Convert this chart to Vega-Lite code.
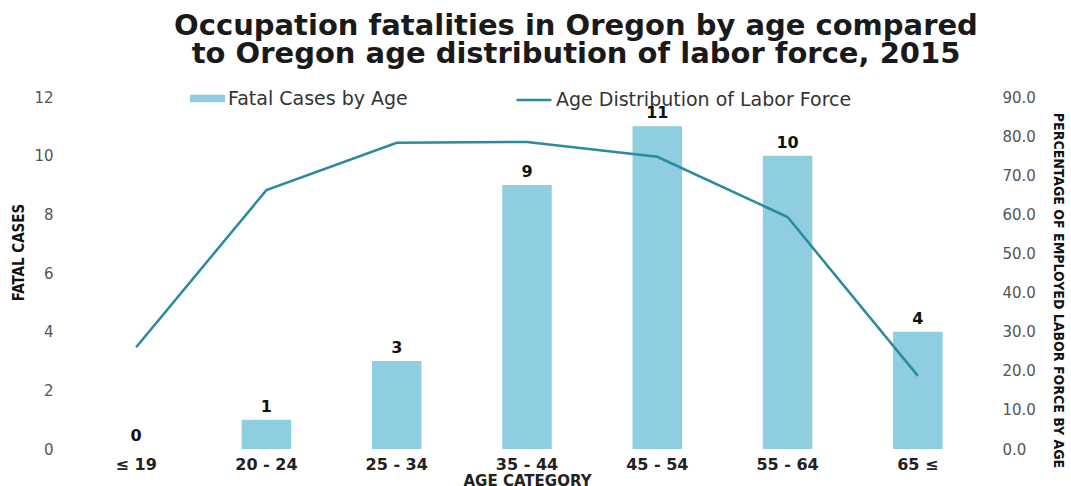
{
  "$schema": "https://vega.github.io/schema/vega-lite/v6.json",
  "width": 912,
  "height": 352,
  "autosize": {"type": "none"},
  "padding": {"left": 71, "top": 97, "right": 88, "bottom": 37},
  "background": "white",
  "title": {
    "text": ["Occupation fatalities in Oregon by age compared", "to Oregon age distribution of labor force, 2015"],
    "anchor": "middle",
    "dx": 49,
    "offset": 12,
    "font": "DejaVu Sans",
    "fontSize": 29,
    "fontWeight": "bold",
    "color": "#1a1a1a",
    "lineHeight": 28
  },
  "config": {
    "view": {"stroke": null},
    "axis": {"grid": false, "domain": false, "ticks": false}
  },
  "data": {
    "values": [
      {"age": "≤ 19", "cases": 0, "pct": 26.0},
      {"age": "20 - 24", "cases": 1, "pct": 66.2},
      {"age": "25 - 34", "cases": 3, "pct": 78.3},
      {"age": "35 - 44", "cases": 9, "pct": 78.5},
      {"age": "45 - 54", "cases": 11, "pct": 74.7},
      {"age": "55 - 64", "cases": 10, "pct": 59.3},
      {"age": "65 ≤", "cases": 4, "pct": 18.7}
    ]
  },
  "encoding": {
    "x": {
      "field": "age",
      "type": "nominal",
      "sort": null,
      "scale": {"paddingInner": 0.62, "paddingOuter": 0.31},
      "axis": {
        "title": "AGE CATEGORY",
        "labelAngle": 0,
        "labelPadding": 7,
        "labelFont": "DejaVu Sans",
        "labelFontSize": 16,
        "labelFontWeight": "bold",
        "labelColor": "#222222",
        "titleFont": "DejaVu Sans",
        "titleFontSize": 15,
        "titleFontWeight": "bold",
        "titleColor": "#222222",
        "titlePadding": 1
      }
    }
  },
  "layer": [
    {
      "mark": {"type": "bar"},
      "encoding": {
        "y": {
          "field": "cases",
          "type": "quantitative",
          "scale": {"domain": [0, 12]},
          "axis": {
            "title": "FATAL CASES",
            "values": [0, 2, 4, 6, 8, 10, 12],
            "labelPadding": 18,
            "labelFont": "DejaVu Sans",
            "labelFontSize": 15,
            "labelColor": "#555555",
            "titleFont": "DejaVu Sans Condensed",
            "titleFontSize": 15,
            "titleFontWeight": "bold",
            "titleColor": "#111111",
            "titlePadding": 7,
            "titleY": 155
          }
        },
        "fill": {
          "datum": "Fatal Cases by Age",
          "type": "nominal",
          "scale": {"range": ["#8fcde0"]},
          "legend": {
            "title": null,
            "orient": "none",
            "legendX": 119,
            "legendY": -16,
            "symbolType": "M-1,-0.22H1V0.22H-1Z",
            "symbolSize": 1225,
            "symbolStrokeWidth": 0,
            "labelFont": "DejaVu Sans",
            "labelFontSize": 19,
            "labelColor": "#333333",
            "labelOffset": 3,
            "labelLimit": 500
          }
        }
      }
    },
    {
      "mark": {"type": "text", "dy": -13, "font": "DejaVu Sans", "fontSize": 16, "fontWeight": "bold", "color": "#111111"},
      "encoding": {
        "y": {"field": "cases", "type": "quantitative", "scale": {"domain": [0, 12]}, "axis": null},
        "text": {"field": "cases", "type": "quantitative"}
      }
    },
    {
      "mark": {"type": "line", "strokeWidth": 2.5},
      "encoding": {
        "y": {
          "field": "pct",
          "type": "quantitative",
          "scale": {"domain": [0, 90]},
          "axis": {
            "orient": "right",
            "title": "PERCENTAGE OF EMPLOYED LABOR FORCE BY AGE",
            "values": [0, 10, 20, 30, 40, 50, 60, 70, 80, 90],
            "format": ".1f",
            "labelPadding": 19,
            "labelFont": "DejaVu Sans",
            "labelFontSize": 15,
            "labelColor": "#555555",
            "titleFont": "DejaVu Sans Condensed",
            "titleFontSize": 14,
            "titleFontWeight": "bold",
            "titleColor": "#111111",
            "titlePadding": 15,
            "titleY": 193
          }
        },
        "stroke": {
          "datum": "Age Distribution of Labor Force",
          "type": "nominal",
          "scale": {"range": ["#2b8a9c"]},
          "legend": {
            "title": null,
            "orient": "none",
            "legendX": 444,
            "legendY": -16,
            "symbolType": "stroke",
            "symbolSize": 1225,
            "symbolStrokeWidth": 2.5,
            "labelFont": "DejaVu Sans",
            "labelFontSize": 19,
            "labelColor": "#333333",
            "labelOffset": 3,
            "labelLimit": 500
          }
        }
      }
    }
  ],
  "resolve": {"scale": {"y": "independent"}}
}
